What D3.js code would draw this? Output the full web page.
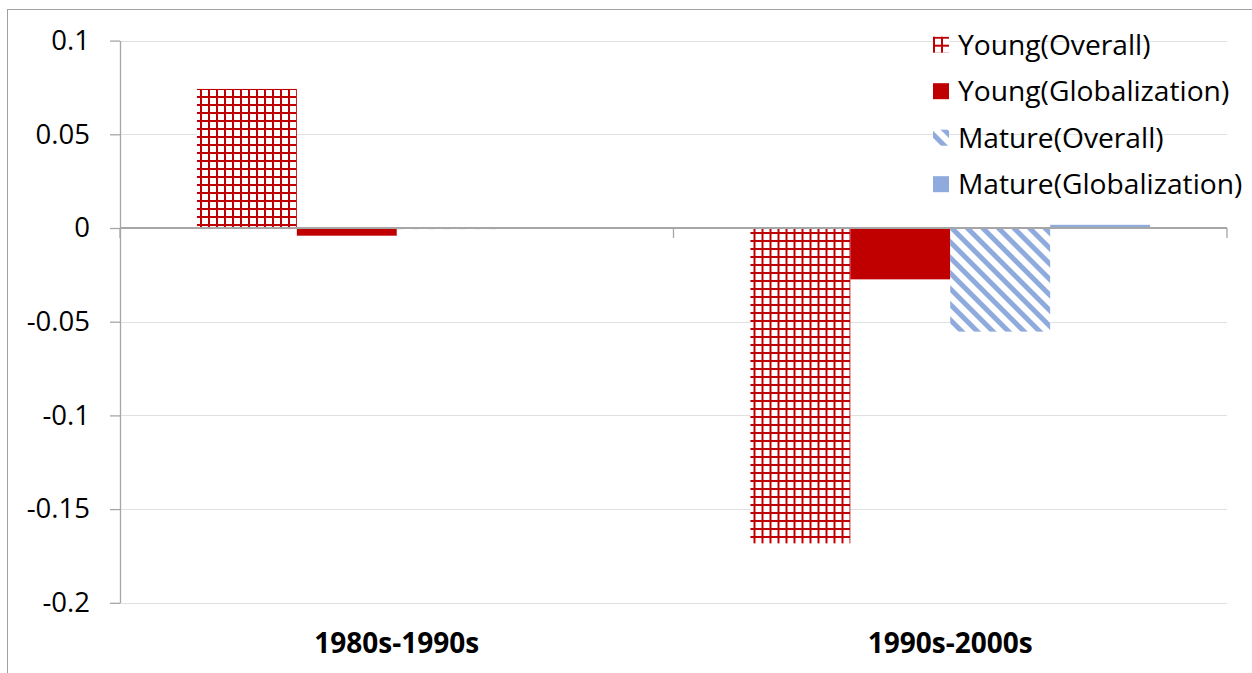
<!DOCTYPE html>
<html>
<head>
<meta charset="utf-8">
<script src="https://cdn.jsdelivr.net/npm/d3@7"></script>
<style>
  body { margin: 0; background: #fff; }
  svg { display: block; font-family: "Open Sans", sans-serif; }
</style>
</head>
<body>
<svg width="1252" height="673"></svg>
<script>
// data
const categories = ["1980s-1990s", "1990s-2000s"];
const seriesNames = ["Young(Overall)", "Young(Globalization)", "Mature(Overall)", "Mature(Globalization)"];
const youngOverall = [0.0742, -0.1683];
const youngGlob = [-0.0041, -0.0274];
const matureOverall = [-0.0006, -0.0553];
const matureGlob = [0.0001, 0.0017];
const yTicks = [0.1, 0.05, 0, -0.05, -0.1, -0.15, -0.2];
const yTickLabels = ["0.1", "0.05", "0", "-0.05", "-0.1", "-0.15", "-0.2"];

const seriesValues = [youngOverall, youngGlob, matureOverall, matureGlob];
const seriesFill = ["url(#grid)", "#C00000", "url(#stripes)", "#8FAADC"];

const svg = d3.select("svg"),
  width = +svg.attr("width"),
  height = +svg.attr("height");

const plot = { left: 120, right: 1227, top: 40.6, bottom: 602.8 };

// patterns
const defs = svg.append("defs");
const grid = defs.append("pattern")
  .attr("id", "grid")
  .attr("patternUnits", "userSpaceOnUse")
  .attr("width", 8).attr("height", 8);
grid.append("rect").attr("width", 8).attr("height", 8).attr("fill", "#fff");
grid.append("rect").attr("x", 0).attr("y", 0).attr("width", 2).attr("height", 8).attr("fill", "#C00000");
grid.append("rect").attr("x", 0).attr("y", 0).attr("width", 8).attr("height", 2).attr("fill", "#C00000");

const stripes = defs.append("pattern")
  .attr("id", "stripes")
  .attr("patternUnits", "userSpaceOnUse")
  .attr("width", 11).attr("height", 11)
  .attr("patternTransform", "rotate(-45)");
stripes.append("rect").attr("width", 11).attr("height", 11).attr("fill", "#fff");
stripes.append("rect").attr("x", 0).attr("width", 5).attr("height", 11).attr("fill", "#8FAADC");

// outer frame of the chart area
svg.append("rect")
  .attr("x", 7.5).attr("y", 9.5)
  .attr("width", width + 20).attr("height", height + 20)
  .attr("fill", "none")
  .attr("stroke", "#a0a0a0");

const y = d3.scaleLinear().domain([-0.2, 0.1]).range([plot.bottom, plot.top]);

const x0 = d3.scaleBand().domain(categories).range([plot.left, plot.right]);
const x1 = d3.scaleBand()
  .domain(seriesNames)
  .range([0, x0.bandwidth()])
  .paddingInner(0)
  .paddingOuter(0.77);

// gridlines
svg.append("g")
  .selectAll("line")
  .data(yTicks.filter((d) => d !== 0))
  .enter()
  .append("line")
  .attr("x1", plot.left)
  .attr("x2", plot.right)
  .attr("y1", (d) => Math.round(y(d)) + 0.5)
  .attr("y2", (d) => Math.round(y(d)) + 0.5)
  .attr("stroke", "#e0e0e0")
  .attr("stroke-width", 1.2);

// bars
const groups = svg.append("g")
  .selectAll("g")
  .data(categories)
  .enter()
  .append("g")
  .attr("transform", (d) => `translate(${x0(d)},0)`);

groups.selectAll("rect")
  .data((c, ci) => seriesNames.map((s, si) => ({ s, si, v: seriesValues[si][ci] })))
  .enter()
  .append("rect")
  .attr("x", (d) => x1(d.s))
  .attr("width", x1.bandwidth())
  .attr("y", (d) => y(Math.max(0, d.v)))
  .attr("height", (d) => Math.max(1, Math.abs(y(d.v) - y(0))))
  .attr("fill", (d) => seriesFill[d.si]);

// y axis
const yAxis = d3.axisLeft(y)
  .tickValues(yTicks)
  .tickFormat((d, i) => yTickLabels[i])
  .tickSize(10)
  .tickPadding(20)
  .tickSizeOuter(0);

const gy = svg.append("g")
  .attr("transform", `translate(${plot.left},0)`)
  .call(yAxis);
gy.select(".domain").attr("stroke", "#a6a6a6").attr("stroke-width", 1.3);
gy.selectAll(".tick line").attr("stroke", "#a6a6a6").attr("stroke-width", 1.3);
gy.selectAll(".tick text")
  .attr("font-family", "Open Sans, sans-serif")
  .attr("font-size", 27.5)
  .attr("fill", "#000");

// category axis along zero
const zeroY = y(0);
svg.append("line")
  .attr("x1", plot.left).attr("x2", plot.right)
  .attr("y1", zeroY).attr("y2", zeroY)
  .attr("stroke", "#a6a6a6").attr("stroke-width", 2);

const boundaries = categories.map((c) => x0(c)).concat([plot.right]);
svg.append("g")
  .selectAll("line")
  .data(boundaries)
  .enter()
  .append("line")
  .attr("x1", (d) => d).attr("x2", (d) => d)
  .attr("y1", zeroY).attr("y2", zeroY + 10)
  .attr("stroke", "#a6a6a6").attr("stroke-width", 1.3);

// category labels
svg.append("g")
  .selectAll("text")
  .data(categories)
  .enter()
  .append("text")
  .attr("x", (d) => x0(d) + x0.bandwidth() / 2)
  .attr("y", 653)
  .attr("text-anchor", "middle")
  .attr("font-size", 28)
  .attr("font-weight", "bold")
  .attr("fill", "#000")
  .text((d) => d);

// legend
const legend = svg.append("g")
  .selectAll("g")
  .data(seriesNames)
  .enter()
  .append("g")
  .attr("transform", (d, i) => `translate(933,${44.7 + i * 46.5})`);

legend.append("rect")
  .attr("x", 0).attr("y", -8)
  .attr("width", 16).attr("height", 16)
  .attr("fill", (d, i) => seriesFill[i]);

legend.append("text")
  .attr("x", 25)
  .attr("y", 0)
  .attr("dy", "0.36em")
  .attr("font-size", 28.2)
  .attr("fill", "#000")
  .text((d) => d);
</script>
</body>
</html>
